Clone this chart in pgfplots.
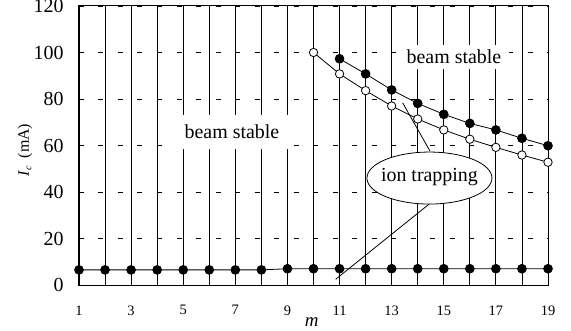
\documentclass[border=0pt]{standalone}
\usepackage{fontspec}
\setmainfont{Liberation Serif}
\usepackage{pgfplots}
\pgfplotsset{compat=1.18}
\begin{document}
\begin{tikzpicture}
\path[use as bounding box] (-79bp,-46bp) rectangle (492bp,285bp);
\begin{axis}[
 scale only axis, width=469bp, height=279bp,
 xmin=1, xmax=19, ymin=0, ymax=120,
 xtick={1,...,19}, xticklabels={1,,3,,5,,7,,9,,11,,13,,15,,17,,19},
 ytick={0,20,40,60,80,100,120}, yticklabels={0,20,40,60,80,100,120},
 xmajorgrids, ymajorgrids,
 major x grid style={black, line width=0.8bp},
 major y grid style={black, line width=0.7bp, dash pattern=on 5bp off 14.5bp},
 major tick length=0pt,
 axis line style={black, line width=1bp},
 every x tick label/.append style={font=\fontsize{14.5}{15}\selectfont, yshift=-17bp},
 every y tick label/.append style={font=\fontsize{20}{20}\selectfont, anchor=east, xshift=-12bp},
 clip=false,
]
\addplot[black, line width=0.8bp, mark=*, mark size=4.4bp, mark options={fill=black}] coordinates {
(1,6.5)(2,6.5)(3,6.5)(4,6.5)(5,6.5)(6,6.5)(7,6.5)(8,6.5)(9,7)(10,7)(11,7)(12,7)(13,7)(14,7)(15,7)(16,7)(17,7)(18,7)(19,7)};
\addplot[black, line width=0.8bp, mark=*, mark size=4.4bp, mark options={fill=black}] coordinates {
(11,97.3)(12,90.8)(13,83.9)(14,78.1)(15,73.4)(16,69.5)(17,66.7)(18,63.1)(19,59.9)};
\addplot[black, line width=0.8bp, mark=*, mark size=4.2bp, mark options={fill=white}] coordinates {
(10,100)(11,90.8)(12,83.6)(13,77.0)(14,71.4)(15,66.7)(16,62.7)(17,59.2)(18,55.9)(19,52.8)};
\draw[black, line width=0.8bp] (axis cs:13.42,78.4) -- (axis cs:14.47,57.6);
\draw[black, line width=0.8bp] (axis cs:14.47,35.1) -- (axis cs:10.85,2.45);
\draw[black, line width=0.8bp, fill=white] (axis cs:14.45,46) ellipse [x radius=62.5bp, y radius=26bp];
\node[font=\fontsize{20}{20}\selectfont] at (axis cs:14.45,46.5) {ion trapping};
\node[fill=white, inner xsep=9bp, inner ysep=10bp, font=\fontsize{20}{20}\selectfont] at (axis cs:6.87,65.8) {beam stable};
\node[fill=white, inner xsep=8bp, inner ysep=5bp, font=\fontsize{20}{20}\selectfont] at (axis cs:15.39,98.1) {beam stable};
\node[rotate=90, font=\fontsize{16}{16}\selectfont] at ([xshift=-54bp]axis cs:1,58) {\textit{I}\raisebox{-0.35ex}{\fontsize{10}{10}\selectfont\textit{c}}\ \ (mA)};
\node[font=\fontsize{19}{19}\selectfont\itshape] at ([yshift=-36.7bp]axis cs:9.93,0) {m};
\end{axis}
\end{tikzpicture}
\end{document}
